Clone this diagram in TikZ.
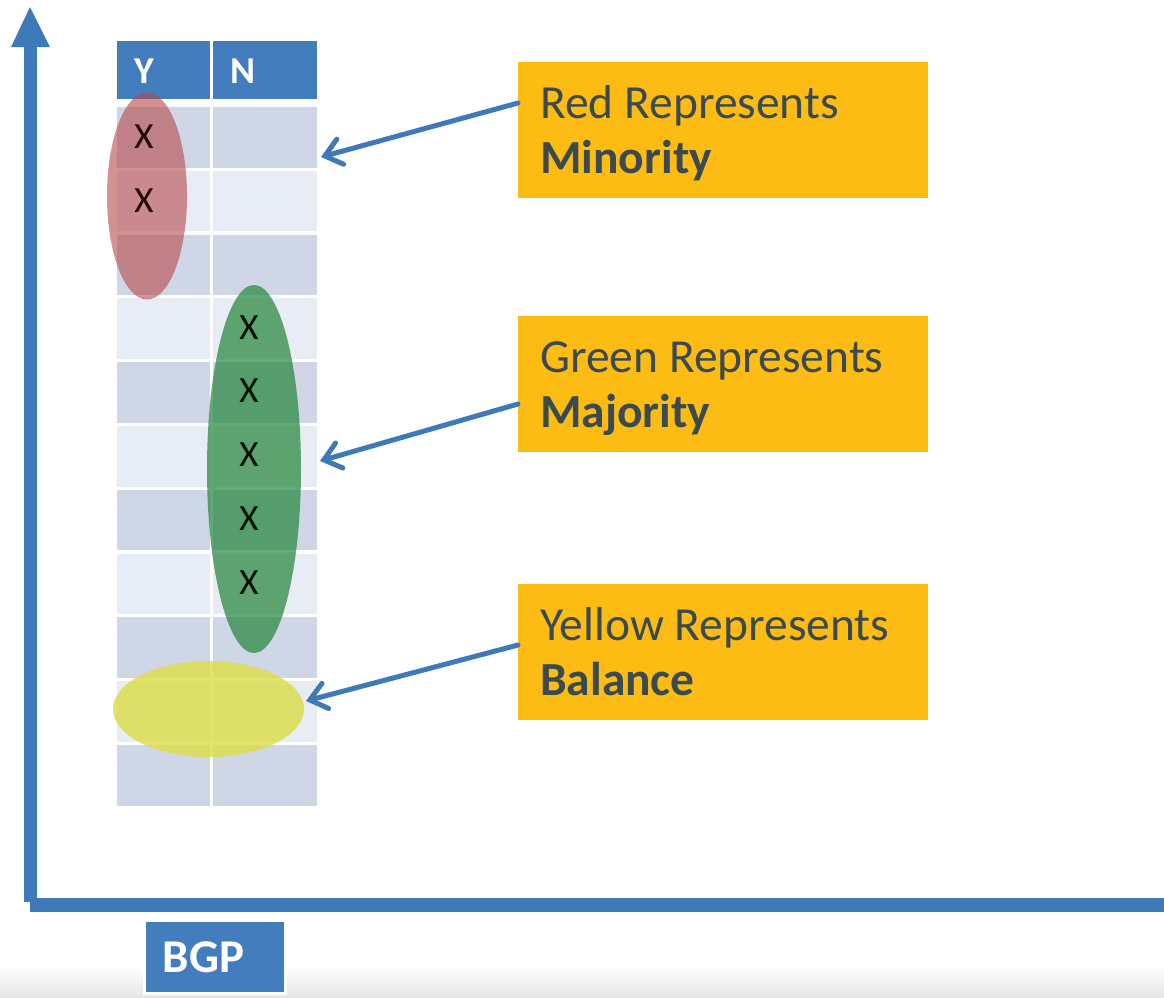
\documentclass[tikz,border=0pt]{standalone}
\usepackage{fontspec}
\setmainfont{Carlito}
\usetikzlibrary{arrows.meta,calc,shapes.geometric}

\definecolor{axisblue}{HTML}{3E7ABA}
\definecolor{hdrblue}{HTML}{447DBE}
\definecolor{rowdark}{HTML}{CFD6E5}
\definecolor{rowlight}{HTML}{E8ECF4}
\definecolor{noteorange}{HTML}{FCBC14}
\definecolor{notetext}{HTML}{3A4A4F}
\definecolor{ellred}{HTML}{B5474A}
\definecolor{ellgreen}{HTML}{2E8B45}
\definecolor{ellyellow}{HTML}{DCDE50}

\tikzset{
  hdrcell/.style={fill=hdrblue, inner sep=0pt},
  hdrtext/.style={text=white, font=\fontsize{38}{38}\selectfont\bfseries, anchor=base, inner sep=0pt},
  xmark/.style={font=\fontsize{37}{37}\selectfont, anchor=base, inner sep=0pt},
  blob/.style={ellipse, inner sep=0pt, draw=none},
  notebox/.style={fill=noteorange, minimum width=410pt, minimum height=136pt, inner sep=0pt},
  notetxt/.style={text=notetext, font=\fontsize{47.5}{47.5}\selectfont, anchor=base west, inner sep=0pt},
  conn/.style={draw=axisblue, line width=5pt, line cap=round,
    -{Straight Barb[length=16pt,width=26pt,line cap=round]}},
}

\begin{document}
\begin{tikzpicture}[x=1pt,y=-1pt]
\useasboundingbox (0,0) rectangle (1164,997);

% faint grey fade along the bottom edge
\shade[top color=white, bottom color=black!10] (0,966) rectangle (1164,997);

% axes
\fill[axisblue] (24,46) rectangle (37,902);
\fill[axisblue] (11,47) -- (30,7) -- (50,47) -- cycle;
\fill[axisblue] (30,898) rectangle (1164,912);

% table header
\node[hdrcell, minimum width=93pt, minimum height=58pt] (hY) at (163.5,70) {};
\node[hdrcell, minimum width=104pt, minimum height=58pt] (hN) at (265,70) {};
\node[hdrtext] (tY) at (144,83) {Y};
\node[hdrtext] (tN) at (243,83) {N};

% table body, alternating row shades
\foreach \i [evaluate=\i as \yt using 107+63.8*\i] in {0,...,10} {
  \ifodd\i \def\rc{rowlight}\else\def\rc{rowdark}\fi
  \fill[\rc] (117,\yt) rectangle (210,\yt+60.5);
  \fill[\rc] (213,\yt) rectangle (317,\yt+60.5);
}

% highlighted groups
\node[blob, fill=ellred, fill opacity=0.6, minimum width=80pt, minimum height=207pt] (redE) at (147,196) {};
\node[blob, fill=ellgreen, fill opacity=0.75, minimum width=94pt, minimum height=368pt] (greenE) at (254,469) {};
\node[blob, fill=ellyellow, fill opacity=0.85, minimum width=191pt, minimum height=96pt] (yellowE) at (208.5,709) {};

% votes
\node[xmark, text=black!80!red!60!black] (xy1) at (144,148) {X};
\node[xmark, text=black!80!red!60!black] (xy2) at (144,212) {X};
\foreach \k in {0,...,4} {
  \node[xmark, text=black!85!green!40!black] (xn\k) at (249,{339+63.8*\k}) {X};
}

% explanation boxes
\node[notebox, anchor=north west] (boxR) at (518,62) {};
\node[notetxt] (boxR1) at (540,118) {Red Represents};
\node[notetxt] (boxR2) at (540,173) {\bfseries Minority};

\node[notebox, anchor=north west] (boxG) at (518,316) {};
\node[notetxt] (boxG1) at (540,372) {Green Represents};
\node[notetxt] (boxG2) at (540,427) {\bfseries Majority};

\node[notebox, anchor=north west] (boxY) at (518,584) {};
\node[notetxt] (boxY1) at (540,640) {Yellow Represents};
\node[notetxt] (boxY2) at (540,695) {\bfseries Balance};

% pointers
\coordinate (rTail) at (518,103);
\coordinate (rTip) at (321,157);
\coordinate (gTail) at (518,404);
\coordinate (gTip) at (320,461);
\coordinate (yTail) at (518,645);
\coordinate (yTip) at (306,701);
\draw[conn] (rTail) -- (rTip);
\draw[conn] (gTail) -- (gTip);
\draw[conn] (yTail) -- (yTip);

% axis label
\node[fill=hdrblue, draw=white, line width=3pt, minimum width=141pt, minimum height=73pt, inner sep=0pt] (bgp) at (214.5,956.5) {};
\node[hdrtext, font=\fontsize{47}{47}\selectfont\bfseries] (bgpT) at (203.5,972) {BGP};
\end{tikzpicture}
\end{document}
